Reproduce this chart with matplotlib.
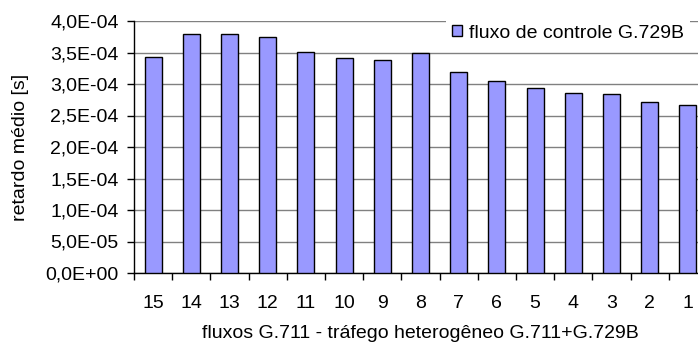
import numpy as np
import matplotlib.pyplot as plt
from matplotlib.ticker import FuncFormatter, FixedLocator

plt.rcParams['font.family'] = ['Liberation Sans', 'DejaVu Sans']

fluxos = ['15', '14', '13', '12', '11', '10', '9', '8', '7', '6', '5', '4', '3', '2', '1']
retardo = [3.43e-4, 3.80e-4, 3.80e-4, 3.75e-4, 3.51e-4, 3.41e-4, 3.38e-4, 3.49e-4,
           3.19e-4, 3.04e-4, 2.94e-4, 2.86e-4, 2.84e-4, 2.72e-4, 2.66e-4]

def sci_comma(v, pos):
    s = '%.1E' % v
    return s.replace('.', ',')

fs = 14

fig = plt.figure(figsize=(6.98, 3.49), dpi=100)
ax = fig.add_axes([134/698, 1-273/349, (707-134)/698, (273-21)/349])

x = np.arange(len(fluxos))
ax.bar(x, retardo, width=0.44, color='#9999FF', edgecolor='black', linewidth=1,
       label='fluxo de controle G.729B', zorder=3)

ax.set_xlim(-0.5, len(fluxos) - 0.5)
ax.set_ylim(0, 4e-4)
ax.set_yticks(np.arange(0, 4.01e-4, 5e-5))
ax.yaxis.set_major_formatter(FuncFormatter(sci_comma))
ax.yaxis.grid(True, color='#808080', linewidth=1, zorder=0)

ax.set_xticks(x)
ax.set_xticklabels(fluxos)
ax.xaxis.set_minor_locator(FixedLocator(np.arange(-0.5, len(fluxos), 1)))
ax.tick_params(axis='x', which='major', length=0, pad=16, labelsize=fs)
ax.tick_params(axis='x', which='minor', length=5, width=1, direction='out')
ax.tick_params(axis='y', length=5, width=1, direction='out', labelsize=fs, pad=6)

for s in ['top', 'right']:
    ax.spines[s].set_visible(False)
for s in ['left', 'bottom']:
    ax.spines[s].set_color('black')
    ax.spines[s].set_linewidth(1)

fig.text(21/698, 1-147/349, 'retardo médio [s]', fontsize=fs, rotation=90,
         ha='center', va='center')
fig.text(420/698, 1-334/349, 'fluxos G.711 - tráfego heterogêneo G.711+G.729B',
         fontsize=fs, ha='center', va='center')

leg = ax.legend(loc='upper left', bbox_to_anchor=(446/698, 1-19/349),
                bbox_transform=fig.transFigure, frameon=True, fancybox=False,
                edgecolor='none', facecolor='white', framealpha=1,
                fontsize=fs, handlelength=0.5, handleheight=0.5,
                handletextpad=0.4, borderpad=0.3, borderaxespad=0)
leg.set_zorder(5)

fig.savefig('out.png', dpi=100)
